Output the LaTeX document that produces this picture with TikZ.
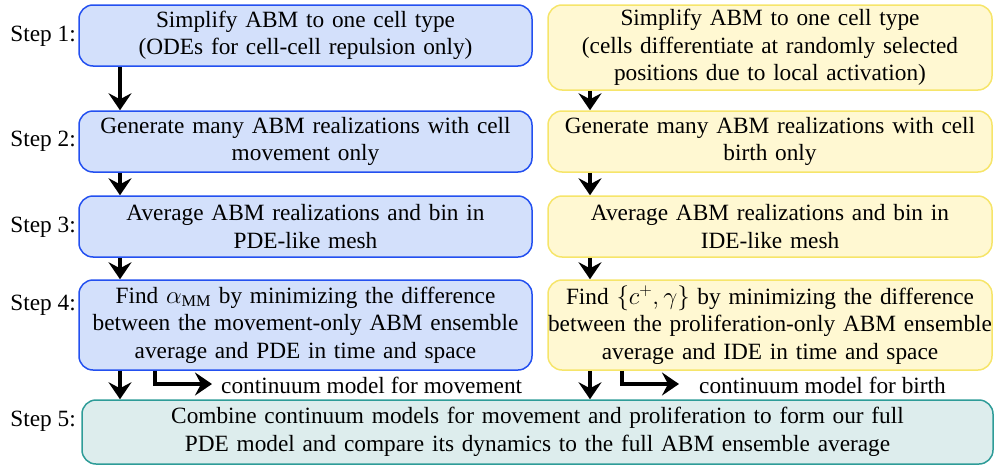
\documentclass[tikz,border=0pt]{standalone}
\usepackage{fontspec}
\setmainfont{Liberation Serif}
\usetikzlibrary{arrows.meta}

\definecolor{bluefill}{HTML}{D3E0FB}
\definecolor{blueline}{HTML}{2350F0}
\definecolor{yelfill}{HTML}{FFF8D2}
\definecolor{yelline}{HTML}{F6E56A}
\definecolor{tealfill}{HTML}{DDEDED}
\definecolor{tealline}{HTML}{2E9C98}

\tikzset{
  every node/.style={font=\fontsize{23.3}{27.5}\selectfont},
  stagebox/.style={draw, line width=1.5pt, rounded corners=14pt, inner sep=0pt,
    align=center},
  movebox/.style={stagebox, fill=bluefill, draw=blueline,
    minimum width=453pt, text width=453pt},
  birthbox/.style={stagebox, fill=yelfill, draw=yelline,
    minimum width=444pt, text width=444pt},
  fullbox/.style={stagebox, fill=tealfill, draw=tealline,
    minimum width=911pt, text width=911pt},
  steplabel/.style={anchor=east, inner sep=0pt},
  flow/.style={line width=3.2pt, -{Stealth[length=17pt,width=23pt,inset=6pt]}},
  outflow/.style={line width=4pt, -{Stealth[length=17pt,width=23pt,inset=6pt]}},
  outlabel/.style={anchor=west, inner sep=0pt}
}

\begin{document}
\begin{tikzpicture}[x=1pt, y=-1pt]
\useasboundingbox (0,0) rectangle (994,466);

% movement-only branch
\node[movebox, minimum height=61pt] (m1) at (305.5,35.5)
  {Simplify ABM to one cell type\\(ODEs for cell-cell repulsion only)};
\node[movebox, minimum height=61pt] (m2) at (305.5,141.5)
  {Generate many ABM realizations with cell\\movement only};
\node[movebox, minimum height=61pt] (m3) at (305.5,226.5)
  {Average ABM realizations and bin in\\PDE-like mesh};
\node[movebox, minimum height=90pt] (m4) at (305.5,325)
  {Find $\alpha_{\mathrm{MM}}$ by minimizing the difference\\\makebox[\linewidth]{between the movement-only ABM ensemble}\\average and PDE in time and space};

% birth-only branch
\node[birthbox, minimum height=85pt] (b1) at (770,47.5)
  {Simplify ABM to one cell type\\(cells differentiate at randomly selected\\positions due to local activation)};
\node[birthbox, minimum height=61pt] (b2) at (770,141.5)
  {Generate many ABM realizations with cell\\birth only};
\node[birthbox, minimum height=61pt] (b3) at (770,226.5)
  {Average ABM realizations and bin in\\IDE-like mesh};
\node[birthbox, minimum height=90pt] (b4) at (770,325)
  {Find $\{c^{+},\gamma\}$ by minimizing the difference\\\makebox[\linewidth]{between the proliferation-only ABM ensemble}\\average and IDE in time and space};

% combined model
\node[fullbox, minimum height=64pt] (full) at (537.5,432)
  {Combine continuum models for movement and proliferation to form our full\\PDE model and compare its dynamics to the full ABM ensemble average};

% step labels
\node[steplabel] (s1) at (76,36) {Step 1:};
\node[steplabel] (s2) at (76,141) {Step 2:};
\node[steplabel] (s3) at (76,227) {Step 3:};
\node[steplabel] (s4) at (76,305) {Step 4:};
\node[steplabel] (s5) at (76,421) {Step 5:};

% vertical flow
\draw[flow] (m1.south -| 120,0) -- (m2.north -| 120,0);
\draw[flow] (m2.south -| 120,0) -- (m3.north -| 120,0);
\draw[flow] (m3.south -| 120,0) -- (m4.north -| 120,0);
\draw[flow] (m4.south -| 120,0) -- (full.north -| 120,0);

\draw[flow] (b1.south -| 590,0) -- (b2.north -| 590,0);
\draw[flow] (b2.south -| 590,0) -- (b3.north -| 590,0);
\draw[flow] (b3.south -| 590,0) -- (b4.north -| 590,0);
\draw[flow] (b4.south -| 590,0) -- (full.north -| 590,0);

% continuum model outputs
\coordinate (mout) at (212,384);
\coordinate (bout) at (679,384);
\draw[outflow] (m4.south -| 155,0) |- (mout);
\draw[outflow] (b4.south -| 622,0) |- (bout);
\node[outlabel] (ml) at (221,385) {continuum model for movement};
\node[outlabel] (bl) at (699,385) {continuum model for birth};
\end{tikzpicture}
\end{document}
